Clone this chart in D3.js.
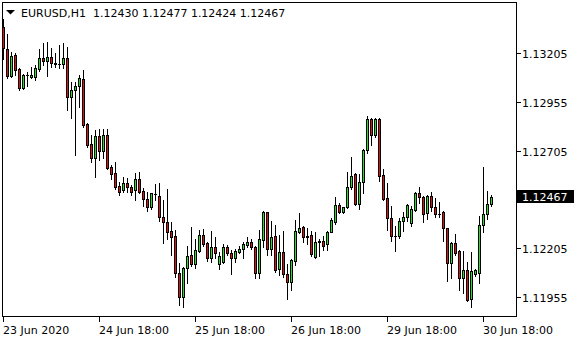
<!DOCTYPE html>
<html>
<head>
<meta charset="utf-8">
<script src="https://cdn.jsdelivr.net/npm/d3@7"></script>
<style>
  html, body { margin: 0; padding: 0; background: #fff; }
  svg { display: block; }
  text { font-family: "DejaVu Sans", sans-serif; font-size: 11px; fill: #000; }
</style>
</head>
<body>
<svg id="chart" width="580" height="340"></svg>
<script>
var symbol = 'EURUSD,H1';

var opens = [
  1.13337, 1.13228, 1.13089, 1.13195, 1.13122, 1.13028, 1.13092, 1.13084, 1.13084, 1.13124,
  1.13178, 1.13166, 1.13184, 1.13156, 1.13149, 1.13149, 1.13178, 1.12982, 1.13016, 1.13036,
  1.13072, 1.12842, 1.12739, 1.12666, 1.12780, 1.12705, 1.12785, 1.12623, 1.12589, 1.12524,
  1.12504, 1.12542, 1.12521, 1.12504, 1.12558, 1.12500, 1.12456, 1.12418, 1.12484, 1.12474,
  1.12367, 1.12338, 1.12295, 1.12268, 1.12077, 1.11957, 1.12106, 1.12171, 1.12125, 1.12193,
  1.12273, 1.12231, 1.12157, 1.12210, 1.12123, 1.12133, 1.12210, 1.12179, 1.12157, 1.12184,
  1.12200, 1.12222, 1.12236, 1.12213, 1.12080, 1.12248, 1.12389, 1.12200, 1.12268, 1.12099,
  1.12184, 1.12073, 1.12034, 1.12141, 1.12290, 1.12313, 1.12265, 1.12273, 1.12159, 1.12238,
  1.12242, 1.12225, 1.12290, 1.12341, 1.12425, 1.12392, 1.12415, 1.12521, 1.12584, 1.12432,
  1.12543, 1.12709, 1.12866, 1.12785, 1.12867, 1.12579, 1.12461, 1.12359, 1.12270, 1.12270,
  1.12346, 1.12364, 1.12336, 1.12401, 1.12487, 1.12466, 1.12384, 1.12471, 1.12418, 1.12380,
  1.12389, 1.12307, 1.12128, 1.12231, 1.12191, 1.12051, 1.12092, 1.11944, 1.12073, 1.12080,
  1.12326, 1.12379, 1.12430
];

var highs = [
  1.13378, 1.13303, 1.13212, 1.13207, 1.13127, 1.13096, 1.13110, 1.13132, 1.13144, 1.13225,
  1.13258, 1.13260, 1.13230, 1.13204, 1.13247, 1.13255, 1.13238, 1.13059, 1.13059, 1.13091,
  1.13118, 1.12848, 1.12785, 1.12811, 1.12815, 1.12815, 1.12815, 1.12632, 1.12645, 1.12546,
  1.12572, 1.12564, 1.12529, 1.12589, 1.12597, 1.12512, 1.12495, 1.12489, 1.12534, 1.12538,
  1.12452, 1.12507, 1.12341, 1.12299, 1.12128, 1.12111, 1.12217, 1.12316, 1.12251, 1.12299,
  1.12302, 1.12239, 1.12294, 1.12264, 1.12188, 1.12227, 1.12222, 1.12196, 1.12200, 1.12218,
  1.12239, 1.12264, 1.12251, 1.12218, 1.12299, 1.12396, 1.12392, 1.12345, 1.12324, 1.12273,
  1.12294, 1.12125, 1.12150, 1.12350, 1.12384, 1.12321, 1.12307, 1.12294, 1.12287, 1.12253,
  1.12268, 1.12294, 1.12362, 1.12466, 1.12436, 1.12418, 1.12596, 1.12671, 1.12592, 1.12586,
  1.12712, 1.12883, 1.12871, 1.12871, 1.12871, 1.12610, 1.12538, 1.12422, 1.12319, 1.12359,
  1.12392, 1.12432, 1.12422, 1.12492, 1.12517, 1.12473, 1.12478, 1.12492, 1.12461, 1.12444,
  1.12398, 1.12309, 1.12236, 1.12278, 1.12196, 1.12191, 1.12133, 1.12184, 1.12097, 1.12370,
  1.12620, 1.12500, 1.12477
];

var lows = [
  1.13173, 1.13076, 1.13084, 1.13093, 1.13016, 1.13023, 1.13036, 1.13076, 1.13067, 1.13115,
  1.13144, 1.13089, 1.13135, 1.13135, 1.13127, 1.13127, 1.12914, 1.12871, 1.12683, 1.12930,
  1.12828, 1.12725, 1.12649, 1.12572, 1.12657, 1.12666, 1.12611, 1.12558, 1.12510, 1.12480,
  1.12495, 1.12495, 1.12478, 1.12452, 1.12490, 1.12422, 1.12398, 1.12406, 1.12452, 1.12346,
  1.12234, 1.12251, 1.12171, 1.12060, 1.11915, 1.11903, 1.12029, 1.12116, 1.12102, 1.12188,
  1.12218, 1.12141, 1.12136, 1.12154, 1.12097, 1.12128, 1.12171, 1.12073, 1.12136, 1.12179,
  1.12157, 1.12210, 1.12200, 1.12054, 1.12051, 1.12213, 1.12171, 1.12171, 1.12085, 1.12068,
  1.12060, 1.11945, 1.11991, 1.12119, 1.12282, 1.12239, 1.12227, 1.12166, 1.12157, 1.12167,
  1.12196, 1.12196, 1.12287, 1.12329, 1.12384, 1.12384, 1.12411, 1.12507, 1.12427, 1.12405,
  1.12490, 1.12695, 1.12734, 1.12777, 1.12551, 1.12452, 1.12299, 1.12244, 1.12193, 1.12256,
  1.12295, 1.12346, 1.12319, 1.12396, 1.12439, 1.12341, 1.12355, 1.12398, 1.12367, 1.12364,
  1.12244, 1.12037, 1.12051, 1.12171, 1.11991, 1.11977, 1.11935, 1.11906, 1.12065, 1.12029,
  1.12290, 1.12355, 1.12424
];

var closes = [
  1.13230, 1.13089, 1.13192, 1.13118, 1.13028, 1.13093, 1.13094, 1.13093, 1.13127, 1.13178,
  1.13166, 1.13184, 1.13153, 1.13148, 1.13150, 1.13178, 1.12982, 1.13016, 1.13036, 1.13077,
  1.12837, 1.12734, 1.12666, 1.12780, 1.12705, 1.12785, 1.12615, 1.12584, 1.12517, 1.12495,
  1.12541, 1.12521, 1.12495, 1.12558, 1.12495, 1.12456, 1.12418, 1.12487, 1.12481, 1.12367,
  1.12338, 1.12290, 1.12264, 1.12077, 1.11957, 1.12102, 1.12166, 1.12125, 1.12196, 1.12273,
  1.12227, 1.12157, 1.12210, 1.12179, 1.12166, 1.12210, 1.12179, 1.12157, 1.12193, 1.12200,
  1.12225, 1.12236, 1.12210, 1.12080, 1.12251, 1.12389, 1.12200, 1.12261, 1.12094, 1.12184,
  1.12072, 1.12031, 1.12145, 1.12294, 1.12310, 1.12264, 1.12267, 1.12176, 1.12236, 1.12240,
  1.12218, 1.12290, 1.12350, 1.12425, 1.12392, 1.12415, 1.12517, 1.12577, 1.12432, 1.12545,
  1.12707, 1.12866, 1.12785, 1.12866, 1.12575, 1.12456, 1.12359, 1.12270, 1.12268, 1.12346,
  1.12364, 1.12425, 1.12405, 1.12487, 1.12469, 1.12379, 1.12471, 1.12418, 1.12379, 1.12383,
  1.12307, 1.12128, 1.12231, 1.12182, 1.12051, 1.12092, 1.11940, 1.12089, 1.12092, 1.12323,
  1.12379, 1.12430, 1.12467
];

var timeTickBars = [0, 24, 48, 72, 96, 120];
var timeTickLabels = ['23 Jun 2020', '24 Jun 18:00', '25 Jun 18:00', '26 Jun 18:00', '29 Jun 18:00', '30 Jun 18:00'];
var priceTicks = [1.13205, 1.12955, 1.12705, 1.12455, 1.12205, 1.11955];

function createRenderer(opts) {
  var svg = d3.select(opts.rootSelector);
  var frame = { left: 2.5, top: 2.5, right: 516.5, bottom: 316.5 };

  var candles = opens.map(function (o, i) {
    return { i: i, o: o, h: highs[i], l: lows[i], c: closes[i] };
  });

  var x = d3.scaleLinear().domain([0, candles.length - 1]).range([3.5, 3.5 + 4 * (candles.length - 1)]);
  var y = d3.scaleLinear().domain([1.118582, 1.134668]).range([316, 2]);

  function py(v) {
    return Math.round(y(v)) + 0.5;
  }

  svg.append('rect')
    .attr('width', 580).attr('height', 340).attr('fill', '#fff');

  var plot = svg.append('g').attr('shape-rendering', 'crispEdges');

  var cells = plot.selectAll('.candle').data(candles).enter().append('g')
    .classed('candle', true);

  cells.append('line')
    .attr('x1', function (d) { return x(d.i); })
    .attr('x2', function (d) { return x(d.i); })
    .attr('y1', function (d) { return py(d.h) - 0.5; })
    .attr('y2', function (d) { return py(d.l) + 0.5; })
    .attr('stroke', '#000');

  cells.each(function (d) {
    var g = d3.select(this);
    var top = py(Math.max(d.o, d.c));
    var bot = py(Math.min(d.o, d.c));
    if (bot - top < 1) {
      g.append('line')
        .attr('x1', x(d.i) - 1.5).attr('x2', x(d.i) + 1.5)
        .attr('y1', top).attr('y2', top)
        .attr('stroke', '#000');
    } else {
      g.append('rect')
        .attr('x', x(d.i) - 1)
        .attr('y', top)
        .attr('width', 2)
        .attr('height', bot - top)
        .attr('fill', d.c >= d.o ? opts.bullColor : opts.bearColor)
        .attr('stroke', '#000');
    }
  });

  // frame
  svg.append('rect')
    .attr('x', frame.left).attr('y', frame.top)
    .attr('width', frame.right - frame.left).attr('height', frame.bottom - frame.top)
    .attr('fill', 'none').attr('stroke', '#000')
    .attr('shape-rendering', 'crispEdges');

  var last = candles[candles.length - 1].c;
  var boxTop = Math.round(y(last)) - 7;

  // price scale
  var pAxis = svg.append('g').attr('shape-rendering', 'crispEdges');
  priceTicks.forEach(function (p) {
    var yy = py(p);
    pAxis.append('line')
      .attr('x1', frame.right).attr('x2', frame.right + 4)
      .attr('y1', yy).attr('y2', yy).attr('stroke', '#000');
    // the label under the current price box is hidden by it
    if (yy > boxTop - 6 && yy < boxTop + 19) return;
    svg.append('text')
      .attr('x', 522).attr('y', yy + 4)
      .text(d3.format('.5f')(p));
  });

  svg.append('rect')
    .attr('x', 517).attr('y', boxTop)
    .attr('width', 57).attr('height', 13)
    .attr('fill', '#000');
  svg.append('text')
    .attr('x', 522).attr('y', Math.round(y(last)) + 4)
    .style('fill', '#fff')
    .text(d3.format('.5f')(last));

  // time scale
  var tAxis = svg.append('g').attr('shape-rendering', 'crispEdges');
  timeTickBars.forEach(function (b, k) {
    var xx = x(b);
    tAxis.append('line')
      .attr('x1', xx).attr('x2', xx)
      .attr('y1', frame.bottom).attr('y2', frame.bottom + 5)
      .attr('stroke', '#000');
    svg.append('text')
      .attr('x', xx - 0.5).attr('y', 334)
      .text(timeTickLabels[k]);
  });

  // header
  svg.append('path')
    .attr('d', 'M6,10 L15,10 L10.5,14.5 Z')
    .attr('fill', '#000');
  var lastBar = candles[candles.length - 1];
  svg.append('text')
    .attr('x', 21).attr('y', 17)
    .attr('xml:space', 'preserve')
    .text(symbol + '  ' + [lastBar.o, lastBar.h, lastBar.l, lastBar.c].map(d3.format('.5f')).join(' '));
}

createRenderer({
  rootSelector: '#chart',
  bullColor: '#1ee61e',
  bearColor: '#dd1111'
});
</script>
</body>
</html>
